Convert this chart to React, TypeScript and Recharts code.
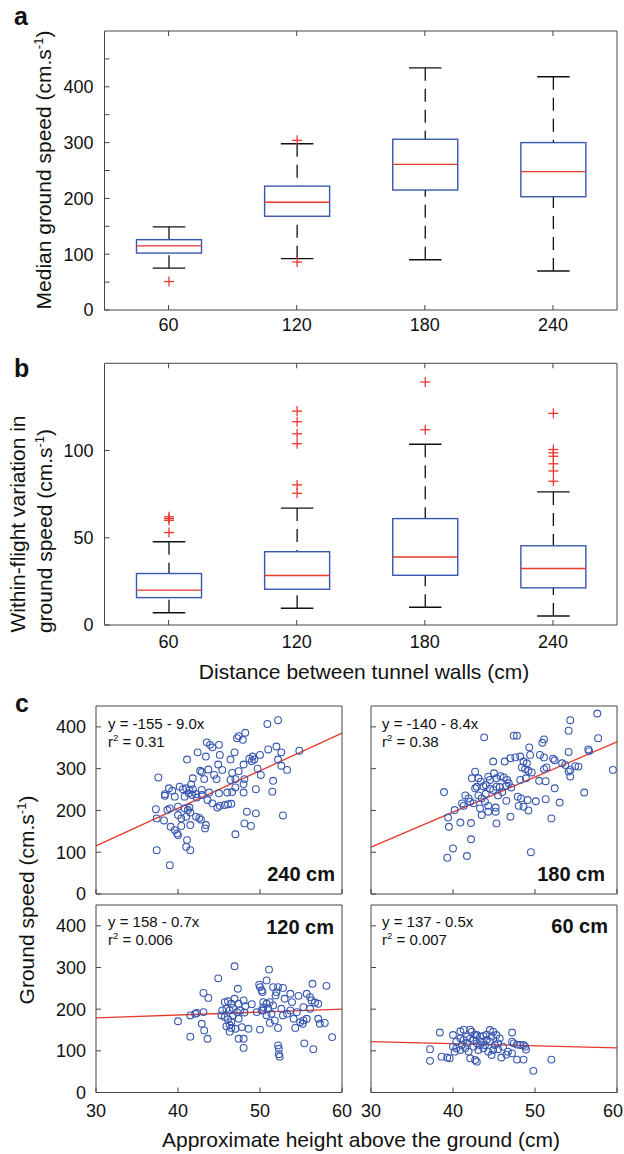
import React from "react";
import {
  ComposedChart,
  Bar,
  XAxis,
  YAxis,
  ScatterChart,
  Scatter,
  ReferenceLine,
} from "recharts";

const FONT = "Arial, 'Liberation Sans', Helvetica, sans-serif";
const BLUE = "#3757b0";
const RED = "#e8392b";
const AXIS = "#454545";
const INK = "#111";

const tunnelWidths = ["60", "120", "180", "240"];

// a: median ground speed (cm/s)
const speedLo = [75, 92, 90, 70];
const speedQ1 = [102, 168, 215, 203];
const speedMed = [115, 193, 261, 248];
const speedQ3 = [126, 222, 306, 300];
const speedHi = [149, 298, 434, 418];
const speedOut = [[51], [304, 86], [], []];
const speedTicks = [0, 50, 100, 150, 200, 250, 300, 350, 400, 450];

// b: within-flight variation (cm/s)
const varLo = [7, 9.6, 10.2, 5.2];
const varQ1 = [15.7, 20.5, 28.5, 21.3];
const varMed = [20, 28.4, 39, 32.4];
const varQ3 = [29.5, 42, 61, 45.4];
const varHi = [47.7, 67, 103.6, 76.3];
const varOut = [
  [60, 61, 62, 53],
  [122.6, 116.5, 109.6, 103.9, 80.3, 75.5],
  [139.3, 111.9],
  [121.3, 100.6, 98.7, 96.7, 92.4, 88.3, 82.4],
];
const varTicks = [0, 50, 100];

// c: ground speed vs height, one list per tunnel width
const pts240 = [
  [52.2, 416], [50.9, 407], [48.2, 386], [47.4, 378], [47.2, 373], [47.9, 369], [43.5, 363],
  [43.9, 357], [45.0, 357], [44.2, 351], [52.0, 353], [52.6, 339], [54.8, 343], [42.4, 339],
  [43.4, 329], [45.1, 333], [46.9, 339], [41.1, 322], [46.4, 322], [44.9, 310], [49.1, 329],
  [49.3, 322], [49.0, 318], [48.7, 324], [50.0, 333], [51.0, 346], [52.2, 322], [52.6, 307],
  [53.3, 297], [48.0, 310], [49.7, 300], [50.1, 285], [47.4, 294], [46.6, 290], [43.7, 298],
  [42.7, 295], [42.9, 292], [45.4, 297], [44.4, 285], [44.7, 275], [46.4, 273], [43.2, 275],
  [41.8, 277], [37.6, 279], [48.1, 275], [47.0, 275], [51.6, 271], [48.0, 263], [47.0, 255],
  [49.5, 251], [51.5, 245], [48.0, 243], [46.6, 244], [46.0, 243], [45.0, 241], [43.8, 243],
  [42.9, 249], [42.9, 237], [40.6, 251], [41.0, 253], [41.4, 249], [41.8, 251], [38.9, 253],
  [38.4, 239], [38.4, 235], [39.6, 233], [40.8, 233], [41.3, 241], [41.7, 237], [42.2, 239],
  [43.6, 225], [44.2, 217], [44.8, 207], [45.1, 211], [45.7, 213], [46.1, 215], [46.5, 216],
  [39.0, 205], [38.7, 201], [40.0, 209], [40.8, 205], [41.2, 201], [41.4, 207], [41.5, 195],
  [37.3, 203], [37.4, 181], [38.3, 176], [40.0, 189], [40.4, 181], [41.0, 185], [42.2, 185],
  [42.6, 182], [42.8, 178], [43.4, 165], [43.3, 157], [39.1, 161], [39.6, 153], [39.9, 145],
  [40.0, 141], [40.4, 163], [41.5, 165], [48.4, 197], [49.5, 193], [52.8, 188], [48.1, 169],
  [48.9, 163], [47.0, 143], [41.1, 129], [41.0, 113], [41.5, 105], [37.4, 105], [39.0, 69],
  [40.2, 257], [41.6, 262], [39.3, 247], [42.3, 231],
];

const pts180 = [
  [57.6, 432], [54.3, 416], [54.1, 391], [57.7, 373], [43.8, 375], [47.4, 379], [47.8, 379],
  [51.1, 370], [50.9, 362], [49.3, 351], [56.5, 346], [56.6, 342], [54.1, 340], [52.2, 324],
  [52.4, 320], [53.3, 313], [53.7, 309], [54.9, 306], [55.3, 305], [54.3, 297], [54.1, 293],
  [54.3, 281], [59.5, 297], [50.6, 333], [51.1, 327], [49.4, 333], [48.2, 329], [47.6, 327],
  [47.0, 325], [46.3, 317], [44.9, 317], [48.6, 317], [49.0, 313], [48.4, 303], [48.8, 299],
  [49.2, 295], [49.6, 291], [51.1, 299], [51.4, 303], [48.9, 277], [48.2, 273], [50.5, 271],
  [51.3, 270], [52.4, 253], [46.6, 273], [46.8, 265], [45.8, 282], [46.2, 279], [45.0, 289],
  [45.3, 277], [44.3, 281], [44.5, 273], [42.7, 293], [42.3, 277], [43.1, 277], [43.4, 269],
  [42.9, 257], [42.7, 253], [43.7, 258], [44.0, 261], [44.5, 252], [44.9, 249], [45.3, 257],
  [45.7, 256], [46.5, 259], [47.1, 255], [38.9, 244], [41.5, 236], [41.9, 229], [41.1, 217],
  [41.3, 211], [40.2, 201], [42.1, 221], [42.5, 217], [43.1, 236], [43.5, 229], [43.9, 221],
  [44.3, 211], [43.3, 205], [43.5, 189], [44.3, 197], [45.2, 207], [45.2, 197], [45.3, 169],
  [46.5, 223], [47.9, 233], [48.3, 229], [48.0, 211], [48.6, 209], [49.1, 225], [50.1, 222],
  [49.2, 200], [47.0, 185], [51.3, 227], [53.0, 219], [52.0, 181], [56.0, 243], [39.4, 183],
  [39.5, 161], [40.9, 171], [42.2, 170], [42.2, 131], [40.0, 109], [39.3, 87], [41.7, 91],
  [49.5, 100], [44.0, 240], [45.5, 236], [46.0, 244],
];

const pts120 = [
  [46.9, 303], [51.1, 295], [44.9, 274], [49.9, 259], [50.0, 253], [50.2, 245], [50.3, 241],
  [50.8, 269], [51.6, 253], [52.2, 253], [52.8, 251], [52.0, 241], [51.9, 233], [56.4, 261],
  [58.1, 256], [47.3, 249], [43.1, 239], [43.7, 227], [53.7, 237], [54.7, 232], [53.0, 225],
  [53.9, 217], [55.7, 237], [56.1, 229], [56.3, 221], [45.7, 217], [46.1, 219], [46.5, 213],
  [46.9, 225], [47.4, 213], [48.0, 221], [48.2, 207], [49.0, 212], [50.4, 217], [50.8, 213],
  [51.2, 217], [51.6, 209], [50.4, 205], [45.4, 197], [45.9, 201], [46.3, 197], [46.7, 203],
  [47.2, 193], [47.6, 197], [48.1, 192], [55.3, 205], [56.7, 216], [57.1, 213], [56.1, 201],
  [41.5, 185], [42.1, 189], [42.3, 191], [43.1, 193], [42.9, 165], [40.0, 171], [45.7, 181],
  [46.1, 176], [46.5, 169], [45.9, 159], [46.3, 146], [46.5, 155], [49.6, 193], [50.2, 197],
  [50.8, 185], [51.4, 189], [51.8, 173], [52.8, 185], [53.3, 189], [54.1, 177], [54.9, 169],
  [55.3, 173], [55.7, 177], [57.1, 177], [57.3, 165], [57.9, 167], [47.8, 157], [48.6, 153],
  [50.0, 151], [51.2, 167], [52.2, 155], [54.3, 155], [55.2, 165], [43.2, 149], [43.6, 129],
  [41.5, 134], [47.4, 129], [48.0, 129], [48.0, 107], [52.2, 113], [52.3, 105], [52.3, 92],
  [52.4, 86], [55.4, 118], [56.5, 104], [58.8, 133], [45.3, 185], [46.7, 185], [47.4, 177],
  [46.3, 162], [47.0, 153], [50.4, 197], [51.0, 201], [52.6, 201], [53.7, 197], [54.5, 193],
];

const pts60 = [
  [38.4, 144], [37.2, 104], [37.2, 76], [38.6, 86], [39.3, 84], [39.6, 82], [40.0, 138],
  [40.9, 147], [41.3, 151], [42.1, 151], [42.3, 146], [40.4, 122], [40.9, 130], [41.3, 126],
  [41.7, 134], [42.1, 130], [42.5, 126], [42.9, 138], [43.3, 134], [43.7, 136], [44.1, 139],
  [44.5, 150], [44.9, 146], [45.3, 138], [45.7, 130], [45.5, 118], [40.4, 106], [40.9, 102],
  [41.5, 107], [41.9, 98], [42.5, 110], [43.1, 102], [43.7, 106], [44.3, 98], [44.9, 102],
  [45.5, 104], [46.1, 110], [42.1, 82], [42.7, 78], [42.9, 74], [44.7, 90], [45.9, 84],
  [46.5, 91], [47.2, 144], [47.2, 122], [47.4, 118], [47.8, 115], [48.2, 114], [48.6, 114],
  [48.8, 110], [48.9, 103], [47.8, 79], [48.6, 79], [49.8, 52], [52.0, 79], [46.7, 98],
  [47.2, 94], [40.0, 110], [40.2, 98], [42.9, 118], [43.5, 122], [43.9, 114], [44.5, 122],
  [45.1, 114], [44.1, 126], [43.3, 114], [42.7, 138], [44.7, 134], [41.7, 118], [41.1, 114],
];

const panelNames = ["240 cm", "180 cm", "120 cm", "60 cm"];
const fitIntercepts = [-155, -140, 158, 137];
const fitSlopes = [9.0, 8.4, 0.7, -0.5];
const fitText = ["y = -155 - 9.0x", "y = -140 - 8.4x", "y = 158 - 0.7x", "y = 137 - 0.5x"];
const fitR2 = ["0.31", "0.38", "0.006", "0.007"];
const heightTicks = [30, 40, 50, 60];
const groundTicks = [0, 100, 200, 300, 400];

const boxRows = (lo, q1, med, q3, hi, out) =>
  tunnelWidths.map((cat, i) => ({
    cat,
    lo: lo[i],
    q1: q1[i],
    med: med[i],
    q3: q3[i],
    hi: hi[i],
    out: out[i],
  }));

const rowsA = boxRows(speedLo, speedQ1, speedMed, speedQ3, speedHi, speedOut);
const rowsB = boxRows(varLo, varQ1, varMed, varQ3, varHi, varOut);
const toPts = (arr) => arr.map(([x, y]) => ({ x, y }));

// whisker range bar -> draw a matlab-style box in it
function BoxShape(props: any) {
  const { x, y, width, height, payload } = props;
  const top = Math.min(y, y + height);
  const bot = Math.max(y, y + height);
  const k = (bot - top) / (payload.hi - payload.lo);
  const py = (v: number) => top + (payload.hi - v) * k;
  const cx = x + width / 2;
  const cap = width / 4;
  return (
    <g>
      <line x1={cx} x2={cx} y1={py(payload.hi)} y2={py(payload.q3)} stroke={INK} strokeWidth={1.3} strokeDasharray="13 8" />
      <line x1={cx} x2={cx} y1={py(payload.lo)} y2={py(payload.q1)} stroke={INK} strokeWidth={1.3} strokeDasharray="13 8" />
      <line x1={cx - cap} x2={cx + cap} y1={py(payload.hi)} y2={py(payload.hi)} stroke={INK} strokeWidth={1.4} />
      <line x1={cx - cap} x2={cx + cap} y1={py(payload.lo)} y2={py(payload.lo)} stroke={INK} strokeWidth={1.4} />
      <rect x={x} y={py(payload.q3)} width={width} height={py(payload.q1) - py(payload.q3)} fill="#fff" stroke={BLUE} strokeWidth={1.4} />
      <line x1={x} x2={x + width} y1={py(payload.med)} y2={py(payload.med)} stroke={RED} strokeWidth={1.4} />
      {payload.out.map((v: number, i: number) => (
        <g key={i} stroke={RED} strokeWidth={1.3}>
          <line x1={cx - 5} x2={cx + 5} y1={py(v)} y2={py(v)} />
          <line x1={cx} x2={cx} y1={py(v) - 5} y2={py(v) + 5} />
        </g>
      ))}
    </g>
  );
}

const ring = (p: any) => (
  <circle cx={p.cx} cy={p.cy} r={3.4} fill="none" stroke={BLUE} strokeWidth={1.1} />
);

const tickStyle = { fontSize: 18, fill: INK, fontFamily: FONT };
const blank = () => "";

// bottom tick label; the last one on the far right is nudged so it stays on the page
const HeightTick = ({ x, y, payload, nudge }: any) => (
  <text
    x={x + (nudge && payload.value === 60 ? -4 : 0)}
    y={y}
    dy="0.71em"
    textAnchor="middle"
    fontSize={18}
    fill={INK}
    fontFamily={FONT}
  >
    {payload.value}
  </text>
);

function BoxPanel({ rows, top, height, xAxisH, marginTop, domainMax, ticks, label100, xTickMargin }: any) {
  return (
    <div style={{ position: "absolute", left: 0, top }}>
      <ComposedChart width={624} height={height} data={rows} margin={{ top: marginTop - 1, right: 6, bottom: 0, left: 0 }}>
        <XAxis dataKey="cat" height={xAxisH} stroke={AXIS} tickSize={-5} tickMargin={xTickMargin} tick={tickStyle} interval={0} />
        <XAxis xAxisId="top" orientation="top" dataKey="cat" height={1} stroke={AXIS} tickSize={-5} tickFormatter={blank} interval={0} />
        <YAxis
          width={104.5}
          domain={[0, domainMax]}
          ticks={ticks}
          interval={0}
          stroke={AXIS}
          tickSize={-5}
          tickMargin={16}
          tick={tickStyle}
          tickFormatter={(v: number) => (label100 && v % 100 !== 0 ? "" : String(v))}
        />
        <YAxis yAxisId="right" orientation="right" width={1} domain={[0, domainMax]} ticks={ticks} interval={0} stroke={AXIS} tickSize={-5} tickFormatter={blank} />
        <Bar dataKey={(d: any) => [d.lo, d.hi]} barSize={65} shape={BoxShape} isAnimationActive={false} />
      </ComposedChart>
    </div>
  );
}

function ScatterPanel({ idx, pts, left, top, bottomLabels, leftLabels, plotH, nudge }: any) {
  const xAxisH = bottomLabels ? 40 : 14;
  const a = fitIntercepts[idx];
  const b = fitSlopes[idx];
  return (
    <div style={{ position: "absolute", left, top }}>
      <ScatterChart width={363} height={6 + plotH + xAxisH} margin={{ top: 5, right: 20, bottom: 0, left: 0 }}>
        <XAxis
          type="number"
          dataKey="x"
          domain={[30, 60]}
          ticks={heightTicks}
          interval={0}
          height={xAxisH}
          stroke={AXIS}
          tickSize={-5}
          tickMargin={17}
          tick={bottomLabels ? <HeightTick nudge={nudge} /> : tickStyle}
          tickFormatter={bottomLabels ? undefined : blank}
        />
        <XAxis xAxisId="top" orientation="top" type="number" domain={[30, 60]} ticks={heightTicks} interval={0} height={1} stroke={AXIS} tickSize={-5} tickFormatter={blank} />
        <YAxis
          type="number"
          dataKey="y"
          domain={[0, 450]}
          ticks={groundTicks}
          interval={0}
          width={96}
          stroke={AXIS}
          tickSize={-5}
          tickMargin={15}
          tick={tickStyle}
          tickFormatter={leftLabels ? undefined : blank}
        />
        <YAxis yAxisId="right" orientation="right" type="number" domain={[0, 450]} ticks={groundTicks} interval={0} width={1} stroke={AXIS} tickSize={-5} tickFormatter={blank} />
        <Scatter data={toPts(pts)} shape={ring} isAnimationActive={false} />
        <ReferenceLine
          segment={[
            { x: 30, y: a + b * 30 },
            { x: 60, y: a + b * 60 },
          ]}
          stroke={RED}
          strokeWidth={1.3}
        />
      </ScatterChart>
    </div>
  );
}

const sup = (base: string, s: string, extra: string) => (
  <>
    {base}
    <tspan dy={-8} fontSize={13}>{s}</tspan>
    <tspan dy={8}>{extra}</tspan>
  </>
);

// where the equation / name texts sit in each small panel
const eqX = [108, 382, 108, 382];
const eqY = [724, 724, 922, 922];
const nameX = [335, 605, 334, 608];
const nameY = [874, 874, 927, 926];

export default function App() {
  return (
    <div style={{ position: "absolute", left: 0, top: 0, width: 624, height: 1154, background: "#fff", fontFamily: FONT }}>
      <BoxPanel rows={rowsA} top={0} height={340} xAxisH={30} marginTop={31} domainMax={500} ticks={speedTicks} label100 xTickMargin={13.5} />
      <BoxPanel rows={rowsB} top={340} height={320} xAxisH={35} marginTop={23.3} domainMax={150} ticks={varTicks} xTickMargin={15} />

      <ScatterPanel idx={0} pts={pts240} left={0} top={700} plotH={188} leftLabels />
      <ScatterPanel idx={1} pts={pts180} left={275} top={700} plotH={188} />
      <ScatterPanel idx={2} pts={pts120} left={0} top={899} plotH={187.5} leftLabels bottomLabels />
      <ScatterPanel idx={3} pts={pts60} left={275} top={899} plotH={187.5} bottomLabels nudge />

      <svg width={624} height={1154} style={{ position: "absolute", left: 0, top: 0, pointerEvents: "none" }} fontFamily={FONT}>
        <text x={14} y={25} fontSize={25} fontWeight="bold" fill={INK}>a</text>
        <text x={14} y={377} fontSize={25} fontWeight="bold" fill={INK}>b</text>
        <text x={15} y={712} fontSize={25} fontWeight="bold" fill={INK}>c</text>

        <text transform="translate(51,170) rotate(-90)" textAnchor="middle" fontSize={21} fill={INK}>
          {sup("Median ground speed (cm.s", "-1", ")")}
        </text>
        <text transform="translate(25,524) rotate(-90)" textAnchor="middle" fontSize={21} fill={INK}>
          Within-flight variation in
        </text>
        <text transform="translate(52,531) rotate(-90)" textAnchor="middle" fontSize={21} fill={INK}>
          {sup("ground speed (cm.s", "-1", ")")}
        </text>
        <text x={364} y={679} textAnchor="middle" fontSize={21} fill={INK}>
          Distance between tunnel walls (cm)
        </text>

        <text transform="translate(34,900) rotate(-90)" textAnchor="middle" fontSize={21} fill={INK}>
          {sup("Ground speed (cm.s", "-1", ")")}
        </text>
        <text x={361} y={1147} textAnchor="middle" fontSize={21} fill={INK}>
          Approximate height above the ground (cm)
        </text>

        {panelNames.map((name, i) => (
          <g key={name}>
            <text x={eqX[i]} y={eqY[i] + 5} fontSize={15} fill={INK}>{fitText[i]}</text>
            <text x={eqX[i]} y={eqY[i] + 23} fontSize={15} fill={INK}>
              r<tspan dy={-6} fontSize={9.5}>2</tspan>
              <tspan dy={6}>{` = ${fitR2[i]}`}</tspan>
            </text>
            <text x={nameX[i]} y={nameY[i] + 7} textAnchor="end" fontSize={20} fontWeight="bold" fill={INK}>{name}</text>
          </g>
        ))}
      </svg>
    </div>
  );
}
